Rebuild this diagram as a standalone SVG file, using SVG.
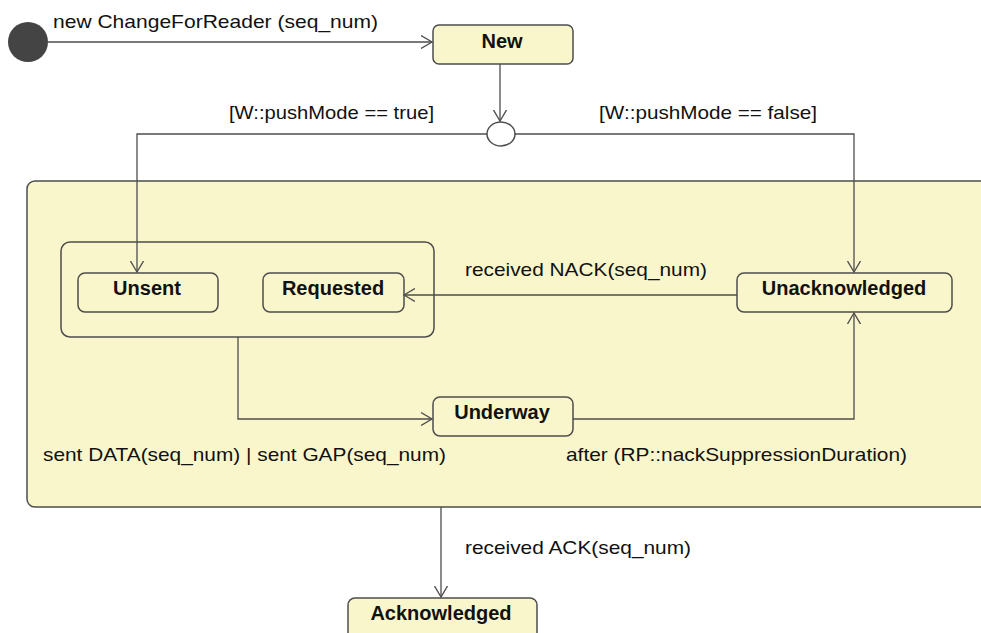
<svg xmlns="http://www.w3.org/2000/svg" width="981" height="633" viewBox="0 0 981 633">
<style>
.st{fill:#faf6cb;stroke:#4d4d4d;stroke-width:1.5}
.cn{fill:none;stroke:#4d4d4d;stroke-width:1.3}
.lb{font-family:"Liberation Sans",Arial,sans-serif;font-size:18.5px;fill:#111}
.nm{font-family:"Liberation Sans",Arial,sans-serif;font-size:20px;font-weight:bold;fill:#111;text-anchor:middle}
</style>
<defs>
<marker id="ah" markerUnits="userSpaceOnUse" markerWidth="14" markerHeight="14" refX="11" refY="7" orient="auto">
<path d="M0,0.5 L11,7 L0,13.5" fill="none" stroke="#4d4d4d" stroke-width="1.3"/>
</marker>
</defs>
<rect width="981" height="633" fill="#fff"/>
<g id="composite">
<rect class="st" x="27" y="181" width="1000" height="326" rx="8"/>
</g>
<g id="group-box">
<rect class="st" x="61" y="242" width="373" height="95" rx="9"/>
</g>
<g id="initial">
<circle cx="28" cy="42" r="20" fill="#444"/>
</g>
<g id="choice">
<ellipse cx="501" cy="134" rx="14" ry="12" fill="#fff" stroke="#4d4d4d" stroke-width="1.5"/>
</g>
<g id="New">
<rect class="st" x="433" y="25" width="140" height="39" rx="6"/>
<text class="nm" x="502" y="48">New</text>
</g>
<g id="Unsent">
<rect class="st" x="78" y="273" width="140" height="39" rx="7"/>
<text class="nm" x="147" y="295">Unsent</text>
</g>
<g id="Requested">
<rect class="st" x="263" y="273" width="141" height="39" rx="7"/>
<text class="nm" x="333" y="295">Requested</text>
</g>
<g id="Unacknowledged">
<rect class="st" x="737" y="273" width="215" height="39" rx="7"/>
<text class="nm" x="844" y="295">Unacknowledged</text>
</g>
<g id="Underway">
<rect class="st" x="433" y="397" width="140" height="39" rx="7"/>
<text class="nm" x="502" y="419">Underway</text>
</g>
<g id="Acknowledged">
<rect class="st" x="348" y="598" width="189" height="50" rx="7"/>
<text class="nm" x="441" y="620">Acknowledged</text>
</g>
<g id="connectors">
<path class="cn" d="M48,42 H432" marker-end="url(#ah)"/>
<path class="cn" d="M500,64 V121" marker-end="url(#ah)"/>
<path class="cn" d="M487,134 H137 V272" marker-end="url(#ah)"/>
<path class="cn" d="M515,134 H854 V272" marker-end="url(#ah)"/>
<path class="cn" d="M737,295 H404" marker-end="url(#ah)"/>
<path class="cn" d="M238,337 V419 H432" marker-end="url(#ah)"/>
<path class="cn" d="M573,419 H854 V313" marker-end="url(#ah)"/>
<path class="cn" d="M441,507 V597" marker-end="url(#ah)"/>
</g>
<g id="labels">
<text class="lb" x="53" y="28" textLength="325" lengthAdjust="spacingAndGlyphs">new ChangeForReader (seq_num)</text>
<text class="lb" x="229" y="119" textLength="205" lengthAdjust="spacingAndGlyphs">[W::pushMode == true]</text>
<text class="lb" x="599" y="119" textLength="218" lengthAdjust="spacingAndGlyphs">[W::pushMode == false]</text>
<text class="lb" x="465" y="276" textLength="242" lengthAdjust="spacingAndGlyphs">received NACK(seq_num)</text>
<text class="lb" x="43" y="461" textLength="403" lengthAdjust="spacingAndGlyphs">sent DATA(seq_num) | sent GAP(seq_num)</text>
<text class="lb" x="566" y="461" textLength="341" lengthAdjust="spacingAndGlyphs">after (RP::nackSuppressionDuration)</text>
<text class="lb" x="465" y="554" textLength="226" lengthAdjust="spacingAndGlyphs">received ACK(seq_num)</text>
</g>
</svg>
